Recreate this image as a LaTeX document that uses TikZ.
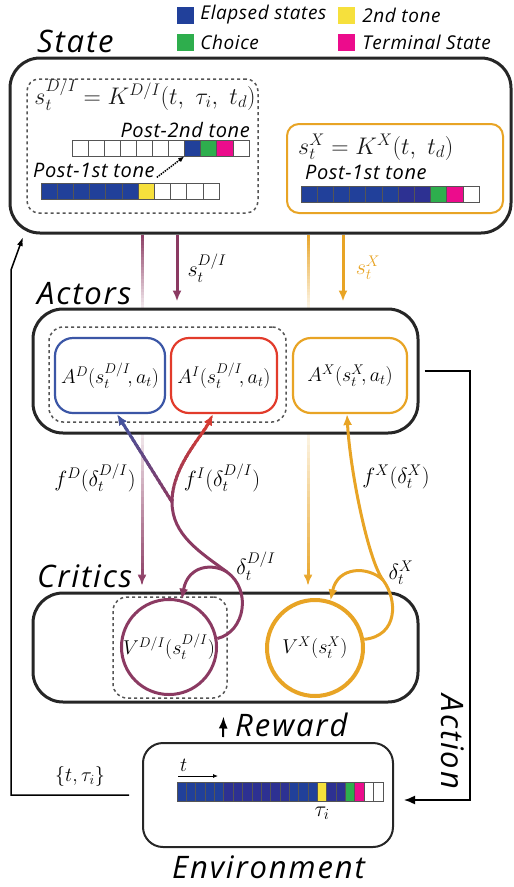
\RequirePackage{fix-cm}
\documentclass[tikz,border=0pt]{standalone}
\usepackage{amsmath}
\usepackage{fontspec}
\setsansfont{Open Sans}
\newfontfamily\titlefont[LetterSpace=6]{Open Sans}
\newfontfamily\legfont[LetterSpace=3]{Open Sans}
\usetikzlibrary{arrows.meta,positioning,calc}

\definecolor{elapsed}{RGB}{33,64,154}
\definecolor{navyc}{RGB}{45,49,146}
\definecolor{tonetwo}{RGB}{246,224,60}
\definecolor{choice}{RGB}{46,174,77}
\definecolor{term}{RGB}{236,12,140}
\definecolor{purp}{RGB}{139,58,98}
\definecolor{orng}{RGB}{232,164,37}
\definecolor{redc}{RGB}{226,59,43}
\definecolor{bluec}{RGB}{59,86,166}
\definecolor{dashc}{RGB}{85,85,85}

% stroke a path with a vertical colour fade (top colour, bottom colour, y top, y bottom, options, path)
\newcommand{\fadestroke}[6]{%
  \colorlet{fadetop}{#1}\colorlet{fadebot}{#2}%
  \foreach \k in {0,...,23}{%
    \pgfmathsetmacro{\mix}{100*\k/23}%
    \begin{scope}
      \clip (0,{#3+(#4-#3)*\k/24-0.6}) rectangle (514,{#3+(#4-#3)*(\k+1)/24+0.6});
      \draw[color=fadebot!\mix!fadetop,#5] #6;
    \end{scope}
  }%
}

\begin{document}
\begin{tikzpicture}[x=1pt,y=-1pt,>={Latex[length=11pt,width=9pt]}]
    \tikzstyle{every node}=[inner sep=0pt];
    \tikzstyle{title}=[font=\titlefont\itshape\fontsize{31}{31}\selectfont,anchor=base west];
    \tikzstyle{legtext}=[font=\legfont\itshape\fontsize{19}{19}\selectfont,anchor=west];
    \tikzstyle{swatch}=[minimum size=17pt];
    \tikzstyle{tonetext}=[font=\legfont\itshape\fontsize{20}{20}\selectfont];
    \tikzstyle{bigbox}=[draw=black!85,line width=3pt,rounded corners=30pt,fill=white];
    \tikzstyle{dashbox}=[draw=dashc,dashed,line width=1.5pt,rounded corners=14pt];
    \tikzstyle{actorbox}=[draw,line width=2.2pt,rounded corners=18pt,minimum height=75pt,
        font=\fontsize{20}{20}\selectfont];
    \tikzstyle{cell}=[draw=dashc,line width=0.9pt,minimum height=16pt];
    \tikzstyle{mathlbl}=[font=\fontsize{22}{22}\selectfont];

    \useasboundingbox (0,0) rectangle (514,887);

    % legend
    \node[swatch,fill=elapsed] (lg1) at (185.5,15) {};
    \node[legtext,right=6pt of lg1] (lgt1) {Elapsed states};
    \node[swatch,fill=tonetwo] (lg2) at (346.5,15) {};
    \node[legtext,right=7pt of lg2] (lgt2) {2nd tone};
    \node[swatch,fill=choice] (lg3) at (185.5,42.5) {};
    \node[legtext,right=6pt of lg3] (lgt3) {Choice};
    \node[swatch,fill=term] (lg4) at (346.5,42.5) {};
    \node[legtext,right=7pt of lg4] (lgt4) {Terminal State};

    % faded paths running behind the actors
    \coordinate (fp) at (142,0);
    \coordinate (fo) at (308,0);
    \coordinate (sp) at (177,0);
    \coordinate (so) at (343,0);
    \node[title] (statet) at (37,52) {State};
    \node[bigbox,minimum width=501pt,minimum height=175pt] (state) at (260.5,145.5) {};
    \node[bigbox,minimum width=385pt,minimum height=109pt] (critics) at (225.5,647.5) {};
    \fadestroke{purp}{purp!12}{233}{309}{line width=3pt}{(fp |- state.south) -- (fp |- critics.north)};
    \fadestroke{purp!12}{purp}{433}{590}{line width=3pt,->}{(fp |- state.south) -- ($(fp |- critics.north)+(0,-6)$)};
    \fadestroke{orng}{orng!12}{233}{309}{line width=3pt}{(fo |- state.south) -- (fo |- critics.north)};
    \fadestroke{orng!12}{orng}{433}{590}{line width=3pt,->}{(fo |- state.south) -- ($(fo |- critics.north)+(0,-6)$)};

    % state
    \node[dashbox,minimum width=231pt,minimum height=134pt,rounded corners=12pt] (didash) at (142.5,146) {};
    \node[mathlbl,font=\fontsize{24}{24}\selectfont,anchor=base,text=black!90] (diform) at (145,104)
        {$s_t^{D/I} = K^{D/I}(t,\ \tau_i,\ t_d)$};
    \node[tonetext,anchor=base east] (p2a) at (250,137) {Post-2nd tone};
    \node[tonetext,anchor=base west] (p1a) at (33,177) {Post-1st tone};
    \foreach \c [count=\i] in {white,white,white,white,white,white,white,elapsed,choice,term,white}
        \node[cell,fill=\c,minimum width=16.1pt] (ta-\i) at ({72+16.1*(\i-0.5)},148) {};
    \foreach \c [count=\i] in {elapsed,elapsed,elapsed,elapsed,elapsed,elapsed,tonetwo,white,white,white,white}
        \node[cell,fill=\c,minimum width=16.2pt] (ba-\i) at ({41+16.2*(\i-0.5)},191) {};
    \draw[->,>={Latex[length=6pt,width=5pt]},densely dotted,line width=1.5pt] ($(p1a.south east)+(2,0)$) -- (ta-8.south west);

    \node[draw=orng,line width=2pt,rounded corners=12pt,minimum width=216pt,minimum height=89pt] (xbox) at (395,168.5) {};
    \node[mathlbl,font=\fontsize{24}{24}\selectfont,anchor=base west,text=black!90] (xform) at (298,154)
        {$s_t^{X} = K^{X}(t,\ t_d)$};
    \node[tonetext,anchor=base west] (p1x) at (305,179) {Post-1st tone};
    \foreach \c [count=\i] in {elapsed,elapsed,elapsed,elapsed,elapsed,elapsed,navyc,navyc,choice,term,white}
        \node[cell,fill=\c,minimum width=16.2pt] (xa-\i) at ({301+16.2*(\i-0.5)},194) {};

    % actors
    \node[title] (actorst) at (37,304) {Actors};
    \node[bigbox,minimum width=385pt,minimum height=124pt] (actors) at (225.5,371) {};
    \node[dashbox,minimum width=237pt,minimum height=95pt] (actdash) at (167.5,374.5) {};
    \node[actorbox,draw=bluec,minimum width=110pt] (ad) at (110,375.5) {$A^D(s_t^{D/I}\!,a_t)$};
    \node[actorbox,draw=redc,minimum width=106pt] (ai) at (224,375.5) {$A^I(s_t^{D/I}\!,a_t)$};
    \node[actorbox,draw=orng,minimum width=114pt] (ax) at (350,375.5) {$A^X(s_t^X\!,a_t)$};

    % state to actors
    \draw[->,purp,line width=3pt] (sp |- state.south) -- ($(sp |- actors.north)+(0,-6)$);
    \node[mathlbl] (sdi) at (207,268) {$s_t^{D/I}$};
    \draw[->,orng,line width=3pt] (so |- state.south) -- ($(so |- actors.north)+(0,-6)$);
    \node[mathlbl,text=orng] (sx) at (368,268) {$s_t^{X}$};

    % critics
    \node[title] (criticst) at (37,587) {Critics};
    \node[dashbox,minimum width=114pt,minimum height=101pt] (vdash) at (170,647.5) {};
    \node[circle,draw=purp,line width=3pt,minimum size=92pt,font=\fontsize{20}{20}\selectfont] (vdi) at (169,647)
        {$V^{D/I}(s_t^{D/I})$};
    \node[circle,draw=orng,line width=4pt,minimum size=96pt,font=\fontsize{20}{20}\selectfont] (vx) at (315,648)
        {$V^{X}(s_t^{X})$};

    % critic feedback
    \coordinate (jn) at (172,502);
    \coordinate (lp) at (227,572);
    \coordinate (lx) at (383,580);
    \draw[purp,line width=3pt] (vdi.10) .. controls (245,632) and (252,590) .. (lp)
        .. controls (200,552) and (172,535) .. (jn);
    \draw[->,purp,line width=3pt] (lp) .. controls (213,563) and (188,565) .. (vdi.75);
    \fadestroke{bluec}{purp}{409}{504}{line width=3pt,->}{(jn) -- ($(ad.south)+(7,0)$)};
    \fadestroke{redc}{purp}{409}{504}{line width=3pt,->}{(jn) .. controls ($(jn)+(0,-35)$) and ($(ai.south)+(-22,22)$) .. ($(ai.south)+(-11,0)$)};
    \draw[orng,line width=3pt] (vx.10) .. controls (398,636) and (398,600) .. (lx);
    \draw[->,orng,line width=3pt] (lx) .. controls (368,560) and (350,470) .. ($(ax.south)+(-3,0)$);
    \draw[->,orng,line width=3pt] (lx) .. controls (368,566) and (338,566) .. (vx.72);
    \node[mathlbl] (fd) at (95,478) {$f^D(\delta_t^{D/I})$};
    \node[mathlbl] (fi) at (222,478) {$f^I(\delta_t^{D/I})$};
    \node[mathlbl] (fx) at (396,477) {$f^X(\delta_t^{X})$};
    \node[mathlbl] (ddi) at (256,566) {$\delta_t^{D/I}$};
    \node[mathlbl] (dx) at (401,573) {$\delta_t^{X}$};

    % environment
    \node[draw=black!85,line width=2pt,rounded corners=20pt,minimum width=250pt,minimum height=104pt] (env) at (268,795) {};
    \node[title] (envt) at (172,878) {Environment};
    \foreach \c [count=\i] in {elapsed,elapsed,elapsed,elapsed,elapsed,navyc,navyc,navyc,navyc,navyc,navyc,navyc,
            elapsed,elapsed,elapsed,tonetwo,navyc,navyc,choice,term,white,white}
        \node[cell,fill=\c,minimum width=9.36pt,minimum height=19pt,line width=0.7pt] (ea-\i) at ({177+9.36*(\i-0.5)},791.5) {};
    \coordinate (ts) at (178,776);
    \coordinate (te) at (218,776);
    \draw[->,>={Latex[length=5pt,width=4pt]},line width=0.8pt] (ts) -- (te);
    \node[mathlbl,anchor=base west,font=\fontsize{20}{20}\selectfont] (tlab) at (180,771) {$t$};
    \node[mathlbl,below=5pt of ea-16] (taulab) {$\tau_i$};

    % reward, action and observation
    \draw[->,line width=2pt,>={Latex[length=12pt,width=9pt]}] ($(env.north)+(-45,-5)$) -- ($(critics.south)+(-2,13)$);
    \node[title] (rewardt) at (235,736) {Reward};
    \coordinate (ac1) at (470,0);
    \draw[->,line width=1.5pt] ($(actors.east)+(5,0)$) -- (ac1 |- actors.east) |- ($(env.east)+(10,5)$);
    \node[title,anchor=center,rotate=-90] (actiont) at (453,742) {Action};
    \coordinate (ob1) at (11,270);
    \draw[->,line width=1.5pt,>={Latex[length=9pt,width=6pt]}] ($(env.west)+(-13,0)$) -| (ob1) -- (23,237);
    \node[mathlbl,font=\fontsize{20}{20}\selectfont] (obs) at (80,776) {$\{t,\tau_i\}$};
\end{tikzpicture}
\end{document}
